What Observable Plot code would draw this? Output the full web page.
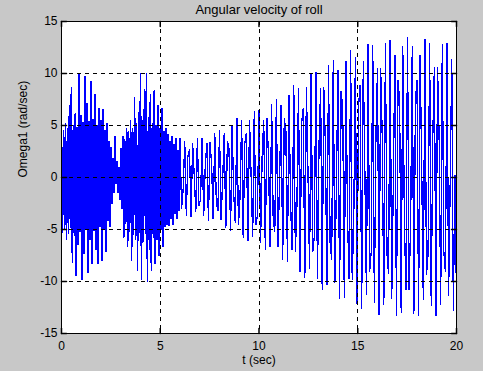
<!DOCTYPE html>
<html>
<head>
<meta charset="utf-8">
<script src="https://cdn.jsdelivr.net/npm/d3@7"></script>
<script src="https://cdn.jsdelivr.net/npm/@observablehq/plot@0.6"></script>
<style>
  html, body { margin: 0; padding: 0; background: #c8c8c8; }
</style>
</head>
<body>
<div id="chart"></div>
<script>
const title = "Angular velocity of roll";
const xLabel = "t (sec)";
const yLabel = "Omega1 (rad/sec)";
const xTicks = [0, 5, 10, 15, 20];
const yTicks = [-15, -10, -5, 0, 5, 10, 15];

// Densely sampled part (0 – 6 s)
const denseTime = [
  0,0.05,0.1,0.15,0.2,0.25,0.3,0.35,0.4,0.45,0.5,0.55,0.6,0.65,0.7,0.75,0.8,0.85,0.9,0.95,
  1,1.05,1.1,1.15,1.2,1.25,1.3,1.35,1.4,1.45,1.5,1.55,1.6,1.65,1.7,1.75,1.8,1.85,1.9,1.95,
  2,2.05,2.1,2.15,2.2,2.25,2.3,2.35,2.4,2.45,2.5,2.55,2.6,2.65,2.7,2.75,2.8,2.85,2.9,2.95,
  3,3.05,3.1,3.15,3.2,3.25,3.3,3.35,3.4,3.45,3.5,3.55,3.6,3.65,3.7,3.75,3.8,3.85,3.9,3.95,
  4,4.05,4.1,4.15,4.2,4.25,4.3,4.35,4.4,4.45,4.5,4.55,4.6,4.65,4.7,4.75,4.8,4.85,4.9,4.95,
  5,5.05,5.1,5.15,5.2,5.25,5.3,5.35,5.4,5.45,5.5,5.55,5.6,5.65,5.7,5.75,5.8,5.85,5.9,5.95
];
const denseOmega = [
  4.5,-5.3,4.6,-5.0,5.2,-6.0,4.8,-5.4,7.0,-4.9,8.7,-8.2,5.0,-5.6,6.2,-9.5,4.9,-6.5,10.0,-5.2,
  6.0,-9.9,5.3,-7.4,9.8,-5.0,7.2,-9.2,5.4,-6.0,9.3,-8.3,5.6,-5.1,8.0,-7.0,5.0,-8.3,6.7,-4.8,
  5.5,-8.0,6.6,-5.0,4.6,-7.2,5.2,-4.2,3.5,-4.8,2.9,-2.5,1.9,-1.5,4.0,-0.6,1.6,-1.5,1.0,-2.2,
  2.8,-3.0,4.0,-5.8,3.7,-4.5,4.8,-6.7,4.5,-5.2,5.5,-8.0,4.8,-5.5,7.7,-6.0,5.2,-9.0,6.3,-5.3,
  10.0,-9.9,5.5,-6.2,8.5,-5.4,10.0,-10.0,5.8,-7.0,8.0,-9.0,5.2,-5.8,8.4,-8.3,5.0,-6.0,7.0,-7.5,
  4.8,-5.0,6.7,-6.7,4.5,-4.8,4.8,-4.6,4.2,-4.7,3.5,-4.0,4.0,-4.6,3.2,-3.5,3.8,-4.0,2.6,-3.2
];

// Coarser sampled part (6 – 20 s)
const sparseTime = [
  6,6.08,6.16,6.24,6.32,6.4,6.48,6.56,6.64,6.72,
  6.8,6.88,6.96,7.04,7.12,7.2,7.28,7.36,7.44,7.52,
  7.6,7.68,7.76,7.84,7.92,8,8.08,8.16,8.24,8.32,
  8.4,8.48,8.56,8.64,8.72,8.8,8.88,8.96,9.04,9.12,
  9.2,9.28,9.36,9.44,9.52,9.6,9.68,9.76,9.84,9.92,
  10,10.08,10.16,10.24,10.32,10.4,10.48,10.56,10.64,10.72,
  10.8,10.88,10.96,11.04,11.12,11.2,11.28,11.36,11.44,11.52,
  11.6,11.68,11.76,11.84,11.92,12,12.08,12.16,12.24,12.32,
  12.4,12.48,12.56,12.64,12.72,12.8,12.88,12.96,13.04,13.12,
  13.2,13.28,13.36,13.44,13.52,13.6,13.68,13.76,13.84,13.92,
  14,14.08,14.16,14.24,14.32,14.4,14.48,14.56,14.64,14.72,
  14.8,14.88,14.96,15.04,15.12,15.2,15.28,15.36,15.44,15.52,
  15.6,15.68,15.76,15.84,15.92,16,16.08,16.16,16.24,16.32,
  16.4,16.48,16.56,16.64,16.72,16.8,16.88,16.96,17.04,17.12,
  17.2,17.28,17.36,17.44,17.52,17.6,17.68,17.76,17.84,17.92,
  18,18.08,18.16,18.24,18.32,18.4,18.48,18.56,18.64,18.72,
  18.8,18.88,18.96,19.04,19.12,19.2,19.28,19.36,19.44,19.52,
  19.6,19.68,19.76,19.84,19.92,20
];
const sparseOmega = [
  3.8,-3.0,-1.1,3.5,-3.7,2.1,2.7,-3.8,3.3,0.2,
  -3.3,3.8,-2.7,-2.1,3.8,-3.7,1.2,3.3,-4.2,3.4,
  1.3,-4.0,4.3,-2.5,-3.2,4.6,-4.1,-0.2,4.3,-4.9,
  3.5,2.8,-5.1,5.0,-1.6,-4.4,5.7,-4.6,-1.8,5.5,
  -5.8,3.3,4.3,-6.1,5.5,0.3,-5.7,6.4,-4.6,-3.6,
  6.5,-6.3,2.1,5.5,-7.0,5.7,2.1,-6.7,7.1,-4.1,
  -5.2,7.5,-6.7,-0.4,7.0,-7.9,5.7,4.5,-8.1,7.9,
  -2.6,-7.0,8.9,-7.2,-2.7,8.6,-9.1,5.2,6.7,-9.7,
  8.7,0.5,-8.8,10.0,-7.2,-5.7,10.1,-9.8,3.2,8.6,
  -10.8,8.7,3.3,-10.3,10.8,-6.2,-7.9,11.3,-10.1,-0.6,
  10.3,-11.7,8.3,6.5,-11.6,11.2,-3.6,-9.8,12.3,-9.9,
  -3.7,11.6,-12.2,6.9,8.9,-12.6,11.2,0.6,-11.3,12.8,
  -9.1,-7.2,12.7,-12.1,3.9,10.5,-13.2,10.5,4.0,-12.3,
  12.9,-7.3,-9.3,13.2,-11.7,-0.7,11.8,-13.3,9.4,7.4,
  -13.0,12.6,-4.1,-10.8,13.5,-10.8,-4.1,12.6,-13.1,7.4,
  9.4,-13.3,11.8,0.7,-11.8,13.3,-9.4,-7.4,12.9,-12.4,
  4.0,10.6,-13.3,10.6,4.0,-12.3,12.8,-7.2,-9.1,12.9,
  -11.4,-0.6,11.4,-12.8,0.2,-11.8
];

const dense = denseTime.map((t, i) => ({t, w: denseOmega[i]}));
const sparse = [dense[dense.length - 1]].concat(sparseTime.map((t, i) => ({t, w: sparseOmega[i]})));

const gridX = xTicks.slice(1, -1);
const gridY = yTicks.slice(1, -1);
const tickShape = {draw(context, l) { context.moveTo(0, 0); context.lineTo(0, -l); }};
const fmt = d => String(d);

const chart = Plot.plot({
  width: 483,
  height: 371,
  marginLeft: 61,
  marginRight: 27,
  marginTop: 21,
  marginBottom: 38,
  x: {domain: [0, 20]},
  y: {domain: [-15, 15]},
  style: {background: "#c8c8c8", fontFamily: "'Liberation Sans', Arial, Helvetica, sans-serif", fontSize: "12px", color: "black"},
  marks: [
    Plot.frame({fill: "white", stroke: null}),
    Plot.line(dense, {x: "t", y: "w", stroke: "#0000ff", strokeWidth: 1.6, strokeLinejoin: "miter", strokeMiterlimit: 1, shapeRendering: "crispEdges"}),
    Plot.line(sparse, {x: "t", y: "w", stroke: "#0000ff", strokeWidth: 1.3, strokeLinejoin: "miter", strokeMiterlimit: 1, shapeRendering: "crispEdges"}),
    Plot.ruleX(gridX, {stroke: "black", strokeWidth: 1, strokeDasharray: "4,4", shapeRendering: "crispEdges"}),
    Plot.ruleY(gridY, {stroke: "black", strokeWidth: 1, strokeDasharray: "4,4", shapeRendering: "crispEdges"}),
    Plot.frame({stroke: "black", strokeWidth: 1}),
    Plot.vector(xTicks, {x: d => d, frameAnchor: "bottom", length: 5, rotate: 0, anchor: "start", shape: tickShape, stroke: "black"}),
    Plot.vector(xTicks, {x: d => d, frameAnchor: "top", length: 5, rotate: 180, anchor: "start", shape: tickShape, stroke: "black"}),
    Plot.vector(yTicks, {y: d => d, frameAnchor: "left", length: 5, rotate: 90, anchor: "start", shape: tickShape, stroke: "black"}),
    Plot.vector(yTicks, {y: d => d, frameAnchor: "right", length: 5, rotate: 270, anchor: "start", shape: tickShape, stroke: "black"}),
    Plot.axisX({ticks: xTicks, tickSize: 0, tickPadding: 8, tickFormat: fmt, label: null, fontSize: 12}),
    Plot.axisY({ticks: yTicks, tickSize: 0, tickPadding: 4, tickFormat: fmt, label: null, fontSize: 12}),
    Plot.text([title], {text: d => d, frameAnchor: "top", dy: -12, lineAnchor: "middle", fontSize: 13, fill: "black"}),
    Plot.text([xLabel], {text: d => d, frameAnchor: "bottom", dy: 27, lineAnchor: "middle", fontSize: 12, fill: "black"}),
    Plot.text([yLabel], {text: d => d, frameAnchor: "left", dx: -38, rotate: -90, lineAnchor: "middle", fontSize: 12, fill: "black"})
  ]
});
document.getElementById("chart").appendChild(chart);
</script>
</body>
</html>
